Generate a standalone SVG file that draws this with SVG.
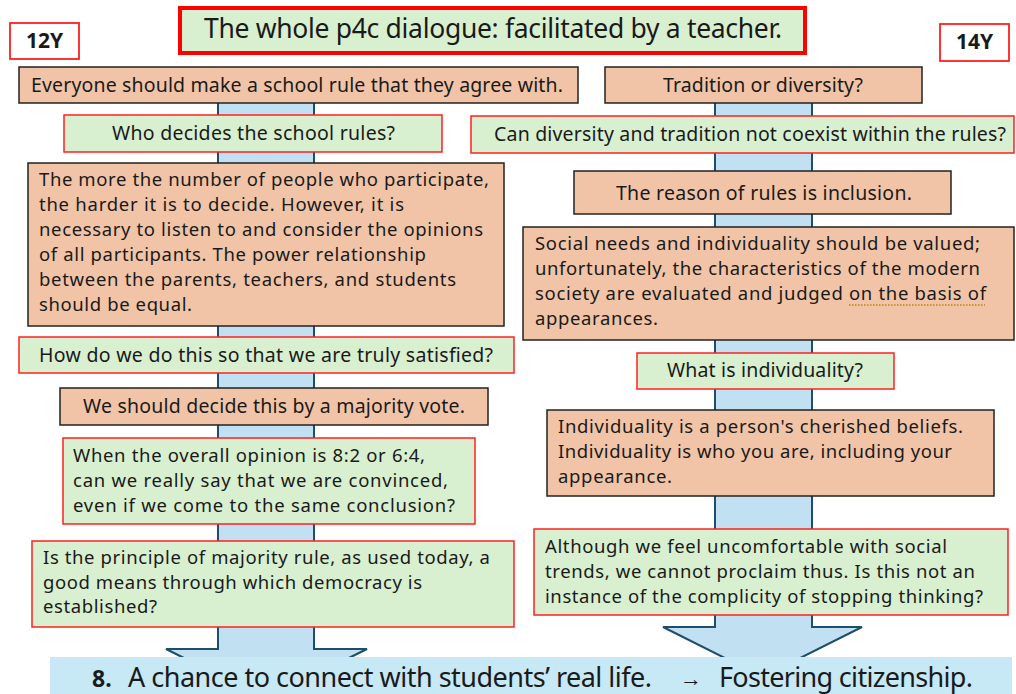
<svg xmlns="http://www.w3.org/2000/svg" width="1016" height="694" viewBox="0 0 1016 694">
  <style>
    text { font-family: "Noto Sans", "Liberation Sans", sans-serif; fill: #1a1a1a; }
    .t1 { font-size: 19.5px; }
    .t2 { font-size: 18.5px; }
    .claim { fill: #f1c4a7; stroke: #222; stroke-width: 1.5; }
    .question { fill: #d8efd0; stroke: #ff2020; stroke-width: 1.5; }
    .flow { fill: #c1e0f1; stroke: #1d4e6c; stroke-width: 2; stroke-linejoin: miter; }
    .age { fill: #ffffff; stroke: #ff2020; stroke-width: 1.8; }
    .age-label { font-size: 21px; font-weight: bold; }
  </style>

  <rect width="1016" height="694" fill="#ffffff"/>

  <!-- broad block arrows running down each column -->
  <g id="connectors">
    <polygon class="flow" points="218,98 314,98 314,649 367,649 266,699 166,649 218,649"/>
    <polygon class="flow" points="715,98 812,98 812,627 862,627 762.5,677 663,627 715,627"/>
  </g>

  <!-- headline -->
  <g id="title">
    <rect x="180" y="8" width="625" height="45" fill="#d8efd0" stroke="#ff0000" stroke-width="4"/>
    <text x="204" y="38" font-size="26.5" textLength="578">The whole p4c dialogue: facilitated by a teacher.</text>
  </g>

  <g id="age-12">
    <rect class="age" x="10" y="23" width="69" height="36"/>
    <text class="age-label" x="44.5" y="48" text-anchor="middle">12Y</text>
  </g>
  <g id="age-14">
    <rect class="age" x="940" y="24" width="69" height="37"/>
    <text class="age-label" x="974.5" y="49" text-anchor="middle">14Y</text>
  </g>

  <!-- left column: 12-year-olds -->
  <g id="l1">
    <rect class="claim" x="19" y="67" width="559" height="36"/>
    <text class="t1" x="31" y="92" textLength="532">Everyone should make a school rule that they agree with.</text>
  </g>
  <g id="l2">
    <rect class="question" x="64" y="115" width="378" height="37"/>
    <text class="t1" x="112" y="140" textLength="283">Who decides the school rules?</text>
  </g>
  <g id="l3">
    <rect class="claim" x="28" y="163" width="476" height="163"/>
    <text class="t2" x="39" y="186" textLength="450">The more the number of people who participate,</text>
    <text class="t2" x="39" y="211" textLength="365">the harder it is to decide. However, it is</text>
    <text class="t2" x="39" y="236" textLength="444">necessary to listen to and consider the opinions</text>
    <text class="t2" x="39" y="261" textLength="387">of all participants. The power relationship</text>
    <text class="t2" x="39" y="286" textLength="417">between the parents, teachers, and students</text>
    <text class="t2" x="39" y="311" textLength="153">should be equal.</text>
  </g>
  <g id="l4">
    <rect class="question" x="19" y="337" width="495" height="36"/>
    <text class="t1" x="39" y="362" textLength="454">How do we do this so that we are truly satisfied?</text>
  </g>
  <g id="l5">
    <rect class="claim" x="60" y="388" width="428" height="37"/>
    <text class="t1" x="83" y="413" textLength="382">We should decide this by a majority vote.</text>
  </g>
  <g id="l6">
    <rect class="question" x="63" y="438" width="412" height="86"/>
    <text class="t2" x="73" y="462" textLength="352">When the overall opinion is 8:2 or 6:4,</text>
    <text class="t2" x="73" y="487" textLength="375">can we really say that we are convinced,</text>
    <text class="t2" x="73" y="512" textLength="382">even if we come to the same conclusion?</text>
  </g>
  <g id="l7">
    <rect class="question" x="32" y="541" width="482" height="86"/>
    <text class="t2" x="43" y="564" textLength="447">Is the principle of majority rule, as used today, a</text>
    <text class="t2" x="43" y="589" textLength="379">good means through which democracy is</text>
    <text class="t2" x="43" y="613" textLength="114">established?</text>
  </g>

  <!-- right column: 14-year-olds -->
  <g id="r1">
    <rect class="claim" x="605" y="67" width="317" height="36"/>
    <text class="t1" x="663" y="92" textLength="200">Tradition or diversity?</text>
  </g>
  <g id="r2">
    <rect class="question" x="471" y="116" width="543" height="37"/>
    <text class="t1" x="494" y="141" textLength="512">Can diversity and tradition not coexist within the rules?</text>
  </g>
  <g id="r3">
    <rect class="claim" x="574" y="171" width="377" height="43"/>
    <text class="t1" x="616" y="200" textLength="296">The reason of rules is inclusion.</text>
  </g>
  <g id="r4">
    <rect class="claim" x="523" y="227" width="491" height="113"/>
    <text class="t2" x="535" y="250" textLength="445">Social needs and individuality should be valued;</text>
    <text class="t2" x="535" y="275" textLength="445">unfortunately, the characteristics of the modern</text>
    <text class="t2" x="535" y="300" textLength="451">society are evaluated and judged on the basis of</text>
    <text class="t2" x="535" y="325" textLength="123">appearances.</text>
    <line x1="849" y1="305" x2="985" y2="305" stroke="#b8860b" stroke-width="1.5" stroke-dasharray="1.5 1.5"/>
  </g>
  <g id="r5">
    <rect class="question" x="637" y="353" width="257" height="36"/>
    <text class="t1" x="667" y="377" textLength="196">What is individuality?</text>
  </g>
  <g id="r6">
    <rect class="claim" x="547" y="410" width="447" height="86"/>
    <text class="t2" x="558" y="433" textLength="405">Individuality is a person's cherished beliefs.</text>
    <text class="t2" x="558" y="458" textLength="394">Individuality is who you are, including your</text>
    <text class="t2" x="558" y="483" textLength="114">appearance.</text>
  </g>
  <g id="r7">
    <rect class="question" x="534" y="529" width="474" height="86"/>
    <text class="t2" x="545" y="553" textLength="402">Although we feel uncomfortable with social</text>
    <text class="t2" x="545" y="578" textLength="430">trends, we cannot proclaim thus. Is this not an</text>
    <text class="t2" x="545" y="603" textLength="438">instance of the complicity of stopping thinking?</text>
  </g>

  <!-- closing banner -->
  <g id="banner">
    <rect x="50" y="657" width="962" height="40" fill="#c6e9f5"/>
    <text x="92" y="687" font-size="23" font-weight="bold">8.</text>
    <text x="128" y="687" font-size="27" textLength="524">A chance to connect with students’ real life.</text>
    <text x="680" y="686" font-size="22">→</text>
    <text x="719" y="687" font-size="27" textLength="254">Fostering citizenship.</text>
  </g>
</svg>
